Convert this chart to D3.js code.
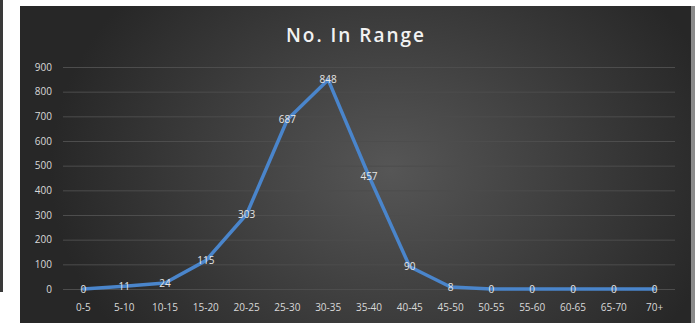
<!DOCTYPE html>
<html>
<head>
<meta charset="utf-8">
<script src="https://cdn.jsdelivr.net/npm/d3@7"></script>
<style>
  html, body { margin: 0; padding: 0; background: #fff; }
  svg { display: block; }
</style>
</head>
<body>
<svg id="chart"></svg>
<script>
// Daten
const categories = ["0-5", "5-10", "10-15", "15-20", "20-25", "25-30", "30-35", "35-40",
  "40-45", "45-50", "50-55", "55-60", "60-65", "65-70", "70+"];
const counts = [0, 11, 24, 115, 303, 687, 848, 457, 90, 8, 0, 0, 0, 0, 0];
const yTicks = [0, 100, 200, 300, 400, 500, 600, 700, 800, 900];

const W = 695, H = 323;
const svg = d3.select("#chart").attr("width", W).attr("height", H);

// Hintergrund (Verlauf)
const defs = svg.append("defs");
const grad = defs.append("radialGradient")
  .attr("id", "bg")
  .attr("gradientUnits", "userSpaceOnUse")
  .attr("cx", 390).attr("cy", 170).attr("r", 340)
  .attr("gradientTransform", "translate(390,170) scale(1,0.8) translate(-390,-170)");
grad.append("stop").attr("offset", "0%").attr("stop-color", "#565656");
grad.append("stop").attr("offset", "100%").attr("stop-color", "#272727");

svg.append("rect").attr("x", 0).attr("y", 0).attr("width", 3).attr("height", 292).attr("fill", "#3a3a3a");
svg.append("rect").attr("x", 20).attr("y", 6).attr("width", 671).attr("height", H - 6).attr("fill", "url(#bg)");
svg.append("rect").attr("x", 691).attr("y", 6).attr("width", 4).attr("height", H - 6).attr("fill", "#8a8a8a");

const x = d3.scaleBand().domain(categories).range([63, 675]);
const y = d3.scaleLinear().domain([0, 900]).range([289, 67]);

// Titel
svg.append("text")
  .attr("x", 356).attr("y", 42)
  .attr("text-anchor", "middle")
  .attr("fill", "#f2f2f2")
  .attr("font-family", "'Open Sans', sans-serif")
  .attr("font-size", "19px")
  .attr("font-weight", "600")
  .attr("letter-spacing", "2px")
  .text("No. In Range");

// Gitterlinien
svg.append("g").selectAll("line")
  .data(yTicks)
  .join("line")
    .attr("x1", 63).attr("x2", 675)
    .attr("y1", d => y(d) + 0.5).attr("y2", d => y(d) + 0.5)
    .attr("stroke", "#4d4d4d")
    .attr("stroke-width", 1);

// Achsen
const yAxis = svg.append("g")
  .attr("transform", "translate(55,0)")
  .call(d3.axisLeft(y).tickValues(yTicks).tickSize(0).tickPadding(3));
const xAxis = svg.append("g")
  .attr("transform", "translate(0,289)")
  .call(d3.axisBottom(x).tickSize(0).tickPadding(15));

[yAxis, xAxis].forEach(a => {
  a.select(".domain").remove();
  a.selectAll("text")
    .attr("fill", "#d9d9d9")
    .attr("font-family", "'Open Sans', sans-serif")
    .attr("font-size", "10px");
});

// Linie
const pts = categories.map((c, i) => ({ cat: c, value: counts[i] }));
const line = d3.line()
  .x(d => x(d.cat) + x.bandwidth() / 2)
  .y(d => y(d.value));

svg.append("path")
  .datum(pts)
  .attr("d", line)
  .attr("fill", "none")
  .attr("stroke", "#4a85cb")
  .attr("stroke-width", 3.5)
  .attr("stroke-linejoin", "round")
  .attr("stroke-linecap", "round");

// Wert-Labels
svg.append("g").selectAll("text")
  .data(pts)
  .join("text")
    .attr("x", d => x(d.cat) + x.bandwidth() / 2)
    .attr("y", d => y(d.value))
    .attr("dy", "0.35em")
    .attr("text-anchor", "middle")
    .attr("fill", "#e6e6e6")
    .attr("font-family", "'Open Sans', sans-serif")
    .attr("font-size", "10px")
    .text(d => d.value);
</script>
</body>
</html>
